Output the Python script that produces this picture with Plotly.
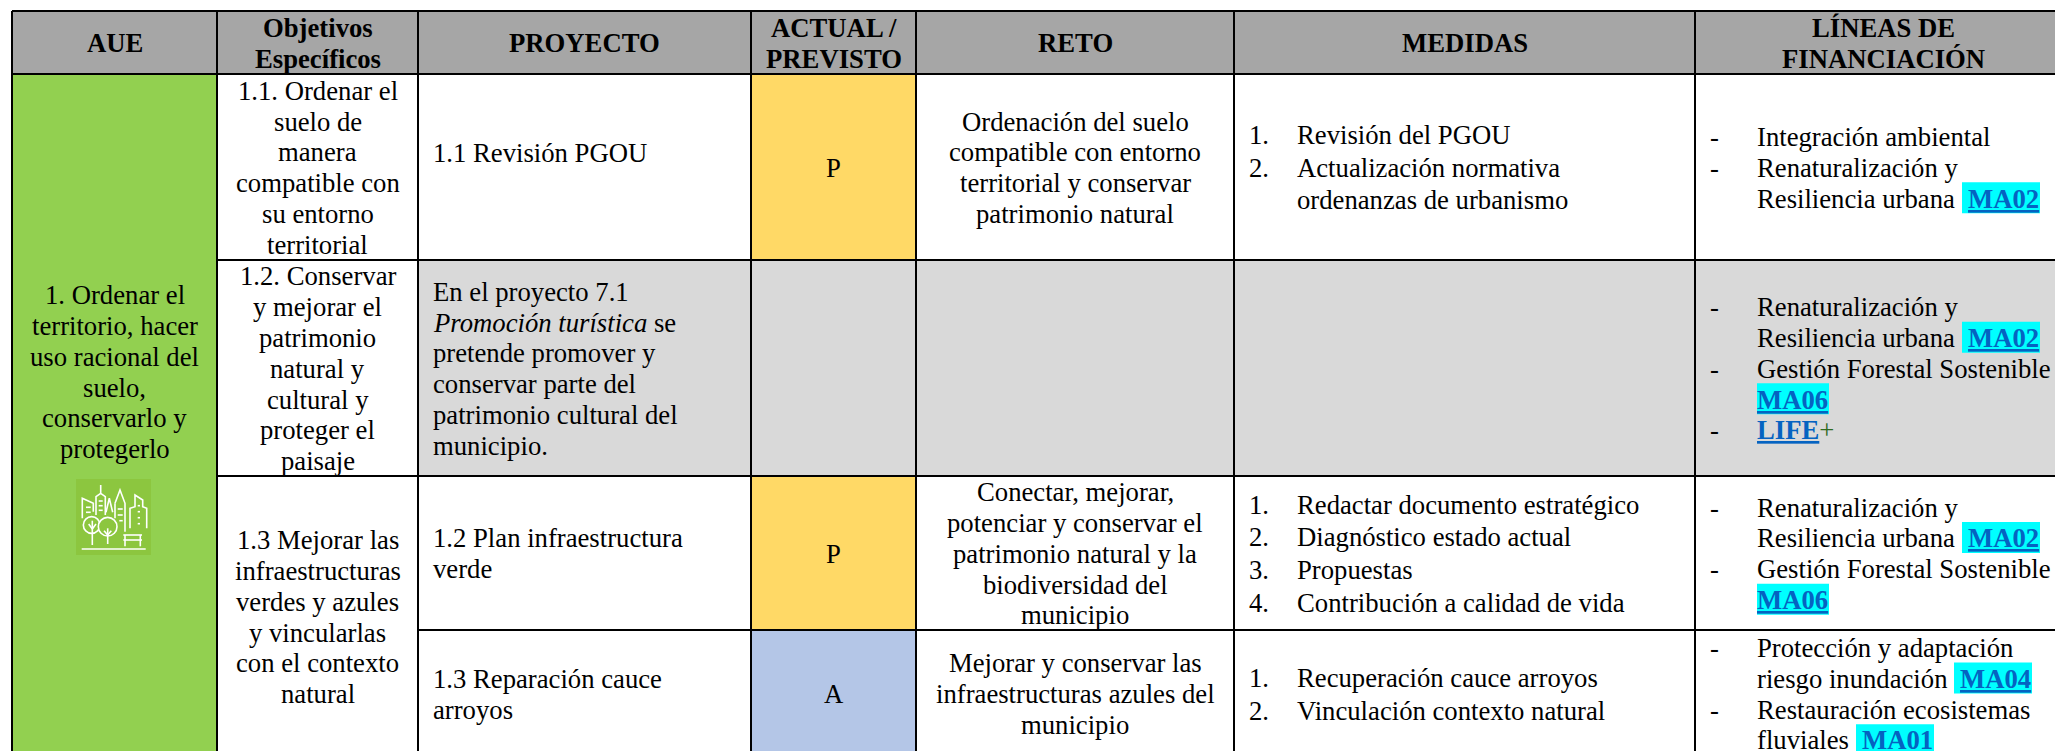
import plotly.graph_objects as go

# ---------- table content ----------
HEADERS = [
    ["AUE"], ["Objetivos", "Específicos"], ["PROYECTO"], ["ACTUAL /", "PREVISTO"],
    ["RETO"], ["MEDIDAS"], ["LÍNEAS DE", "FINANCIACIÓN"],
]
AUE = ["1. Ordenar el", "territorio, hacer", "uso racional del", "suelo,", "conservarlo y", "protegerlo"]
OBJETIVOS = [
    ["1.1. Ordenar el", "suelo de", "manera", "compatible con", "su entorno", "territorial"],
    ["1.2. Conservar", "y mejorar el", "patrimonio", "natural y", "cultural y", "proteger el", "paisaje"],
    ["1.3 Mejorar las", "infraestructuras", "verdes y azules", "y vincularlas", "con el contexto", "natural"],
]
PROYECTOS = [
    ["1.1 Revisión PGOU"],
    ["En el proyecto 7.1", "<i>Promoción turística</i> se", "pretende promover y",
     "conservar parte del", "patrimonio cultural del", "municipio."],
    ["1.2 Plan infraestructura", "verde"],
    ["1.3 Reparación cauce", "arroyos"],
]
ESTADOS = ["P", "", "P", "A"]
RETOS = [
    ["Ordenación del suelo", "compatible con entorno", "territorial y conservar", "patrimonio natural"],
    [],
    ["Conectar, mejorar,", "potenciar y conservar el", "patrimonio natural y la", "biodiversidad del", "municipio"],
    ["Mejorar y conservar las", "infraestructuras azules del", "municipio"],
]
MEDIDAS = [
    [("1.", "Revisión del PGOU"), ("2.", "Actualización normativa"), ("", "ordenanzas de urbanismo")],
    [],
    [("1.", "Redactar documento estratégico"), ("2.", "Diagnóstico estado actual"),
     ("3.", "Propuestas"), ("4.", "Contribución a calidad de vida")],
    [("1.", "Recuperación cauce arroyos"), ("2.", "Vinculación contexto natural")],
]
FINANCIACION = [
    [("-", "Integración ambiental", ""), ("-", "Renaturalización y", ""), ("", "Resiliencia urbana", "MA02")],
    [("-", "Renaturalización y", ""), ("", "Resiliencia urbana", "MA02"),
     ("-", "Gestión Forestal Sostenible", ""), ("", "", "MA06"), ("-", "", "LIFE")],
    [("-", "Renaturalización y", ""), ("", "Resiliencia urbana", "MA02"),
     ("-", "Gestión Forestal Sostenible", ""), ("", "", "MA06")],
    [("-", "Protección y adaptación", ""), ("", "riesgo inundación", "MA04"),
     ("-", "Restauración ecosistemas", ""), ("", "fluviales", "MA01")],
]

# ---------- layout of the table (pixels of the 2055x751 page) ----------
W, H = 2055, 751
COL = [12, 217, 418, 751, 916, 1234, 1695, 2070]
ROW = [11, 74, 260, 476, 630, 757]
PITCH, LIST_PITCH = 30.8, 32.6
FS = 26.7
FONT = "Liberation Serif"
Y_NUDGE = 0.7
NUM_X, MED_X, DASH_X, FIN_X, PROY_X = 1249, 1297, 1710, 1757, 433
HEAD_LAST_X = 1883
TAG_OFFSET = {"Resiliencia urbana": 205, "riesgo inundación": 197, "fluviales": 99, "": 0}

GREEN, GRAY, HEAD, YELLOW, BLUE, CYAN = "#92D050", "#D9D9D9", "#A6A6A6", "#FFD966", "#B4C6E7", "#00FFFF"
LINK, PLUS, ICON_BG = "#0563C1", "#2F6B1E", "#8CC63F"
STATE_FILL = {"P": YELLOW, "A": BLUE}

shapes, notes = [], []


def rect(x0, x1, y0, y1, color):
    shapes.append(dict(type="rect", xref="x", yref="y", x0=x0, x1=x1, y0=y0, y1=y1,
                       fillcolor=color, line=dict(width=0), layer="below"))


def line(x0, y0, x1, y1):
    shapes.append(dict(type="line", xref="x", yref="y", x0=x0, x1=x1, y0=y0, y1=y1,
                       line=dict(color="#000000", width=2), layer="below"))


def note(text, x, y, anchor="center", size=FS):
    notes.append(dict(text=text, x=x, y=y + Y_NUDGE, xref="x", yref="y", showarrow=False,
                      xanchor=anchor, yanchor="middle", borderpad=0, borderwidth=0,
                      font=dict(family=FONT, size=size, color="#000000")))


def block(lines, x, yc, anchor="center", pitch=PITCH, bold=False):
    n = len(lines)
    for i, t in enumerate(lines):
        note(f"<b>{t}</b>" if bold else t, x, yc + pitch * (i - (n - 1) / 2), anchor)


def mid(a, b):
    return (a + b) / 2


# fills
rect(COL[0], COL[-1], ROW[0], ROW[1], HEAD)
rect(COL[0], COL[1], ROW[1], ROW[-1], GREEN)
rect(COL[2], COL[-1], ROW[2], ROW[3], GRAY)
for i, s in enumerate(ESTADOS):
    if s:
        rect(COL[3], COL[4], ROW[i + 1], ROW[i + 2], STATE_FILL[s])

# highlights behind funding codes
for i, cell in enumerate(FINANCIACION):
    yc = mid(ROW[i + 1], ROW[i + 2])
    n = len(cell)
    for j, (_, txt, tag) in enumerate(cell):
        if tag.startswith("MA"):
            y = yc + PITCH * (j - (n - 1) / 2)
            x0 = FIN_X + TAG_OFFSET[txt]
            rect(x0, x0 + (78 if txt else 72), y - 15.5, y + 15.5, CYAN)

# grid lines
for r in (ROW[0], ROW[1]):
    line(COL[0], r, W + 10, r)
for x in COL[:-1]:
    line(x, ROW[0], x, H + 5)
line(COL[1], ROW[2], W + 10, ROW[2])
line(COL[1], ROW[3], W + 10, ROW[3])
line(COL[2], ROW[4], W + 10, ROW[4])

# header
for j, h in enumerate(HEADERS):
    x = mid(COL[j], COL[j + 1]) if j < 6 else HEAD_LAST_X
    block(h, x, mid(ROW[0], ROW[1]), bold=True)

# AUE + objectives
block(AUE, mid(COL[0], COL[1]), 371.5)
OBJ_ROWS = [(ROW[1], ROW[2]), (ROW[2], ROW[3]), (ROW[3], ROW[5])]
for cell, (a, b) in zip(OBJETIVOS, OBJ_ROWS):
    block(cell, mid(COL[1], COL[2]), mid(a, b))

# per-row cells
for i in range(4):
    yc = mid(ROW[i + 1], ROW[i + 2])
    block(PROYECTOS[i], PROY_X, yc - (15 if i == 0 else 0), "left")
    if ESTADOS[i]:
        note(ESTADOS[i], mid(COL[3], COL[4]), yc)
    block(RETOS[i], mid(COL[4], COL[5]), yc)
    n = len(MEDIDAS[i])
    for j, (num, txt) in enumerate(MEDIDAS[i]):
        y = yc + LIST_PITCH * (j - (n - 1) / 2)
        if num:
            note(num, NUM_X, y, "left")
        note(txt, MED_X, y, "left")
    n = len(FINANCIACION[i])
    for j, (dash, txt, tag) in enumerate(FINANCIACION[i]):
        y = yc + PITCH * (j - (n - 1) / 2)
        if dash:
            note(dash, DASH_X, y, "left")
        if txt:
            note(txt, FIN_X, y, "left")
        if tag:
            link = f'<span style="text-decoration:underline;fill:{LINK}"><b>{tag}</b></span>'
            if tag == "LIFE":
                link += f'<span style="fill:{PLUS}">+</span>'
                note(link, FIN_X, y, "left")
            else:
                note(link, FIN_X + TAG_OFFSET[txt] + (6 if txt else 0), y, "left")

# ---------- icon (drawn in its own 0..225 box, then placed in the green cell) ----------
ICON_X, ICON_Y, ICON_SCALE = 76, 479, 1 / 3
rect(ICON_X, ICON_X + 75, ICON_Y, ICON_Y + 76, ICON_BG)
ICON_STROKES = [
    [(17, 210), (209, 210)],
    [(19, 118), (19, 58), (52, 73), (52, 98)], [(30, 85), (44, 85)], [(30, 100), (44, 100)],
    [(60, 108), (60, 53), (74, 43), (74, 18), (74, 43), (88, 53), (88, 108)],
    [(68, 66), (80, 66)], [(68, 80), (80, 80)], [(68, 94), (80, 94)],
    [(90, 100), (100, 58), (110, 100)],
    [(117, 73), (132, 33), (147, 73), (147, 158)], [(117, 73), (117, 118)],
    [(125, 90), (140, 90)], [(125, 108), (140, 108)], [(130, 125), (140, 125)],
    [(162, 148), (162, 88), (177, 83), (177, 48), (200, 63), (200, 83), (212, 88), (212, 148)],
    [(185, 80), (192, 80)], [(185, 98), (192, 98)], [(185, 116), (192, 116)], [(185, 134), (192, 134)],
    [(142, 168), (198, 168)], [(142, 183), (198, 183)], [(147, 168), (147, 202)], [(193, 168), (193, 202)],
]
ICON_TREES = [(47, 138, 25), (95, 143, 28)]
ICON_TRUNKS = [
    [(49, 125), (49, 198)], [(38, 135), (49, 150)], [(60, 135), (49, 150)],
    [(95, 148), (95, 195)], [(84, 155), (95, 168)], [(106, 155), (95, 168)],
]


def ix(v):
    return ICON_X + v * ICON_SCALE


def iy(v):
    return ICON_Y + v * ICON_SCALE


def stroke(pts):
    d = "M" + " L".join(f"{ix(a):.1f},{iy(b):.1f}" for a, b in pts)
    shapes.append(dict(type="path", xref="x", yref="y", path=d,
                       line=dict(color="#FFFFFF", width=1.6), layer="below"))


for pts in ICON_STROKES:
    stroke(pts)
for cx, cy, r in ICON_TREES:
    shapes.append(dict(type="circle", xref="x", yref="y", x0=ix(cx - r), x1=ix(cx + r),
                       y0=iy(cy - r), y1=iy(cy + r), fillcolor=ICON_BG,
                       line=dict(color="#FFFFFF", width=1.6), layer="below"))
for pts in ICON_TRUNKS:
    stroke(pts)

fig = go.Figure(go.Scatter(x=[0, W], y=[0, H], mode="markers", marker=dict(opacity=0), hoverinfo="skip"))
fig.update_layout(
    width=W, height=H, margin=dict(l=0, r=0, t=0, b=0), showlegend=False,
    paper_bgcolor="#FFFFFF", plot_bgcolor="#FFFFFF",
    xaxis=dict(range=[0, W], visible=False, fixedrange=True),
    yaxis=dict(range=[H, 0], visible=False, fixedrange=True),
    shapes=shapes, annotations=notes,
)
fig.write_html("out.html", config={"displayModeBar": False},
               post_script="document.body.style.margin='0';document.documentElement.style.overflow='hidden';")
